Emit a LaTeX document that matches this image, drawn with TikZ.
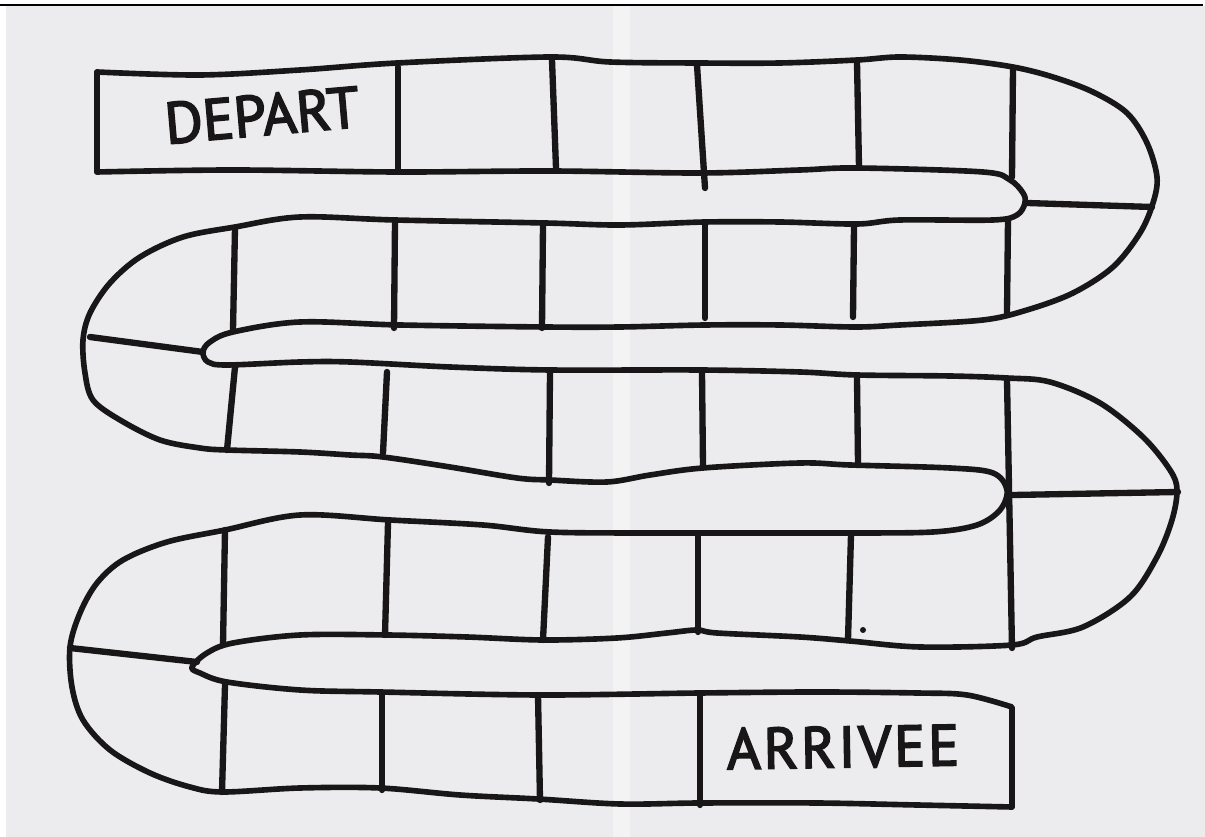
\documentclass[tikz,border=0pt]{standalone}
\usepackage{fontspec}
\newfontfamily\handfont[FakeBold=3]{PT Sans}
\newfontfamily\handfontwide[FakeBold=3,LetterSpace=5]{PT Sans}
\usetikzlibrary{calc}
\definecolor{paper}{RGB}{236,236,238}
\definecolor{ink}{RGB}{24,22,22}

\begin{document}
\begin{tikzpicture}[x=0.01cm,y=-0.01cm,
  track/.style={ink,line width=1.6pt,line cap=round,line join=round},
  wall/.style={ink,line width=1.8pt,line cap=round},
  word/.style={ink,inner sep=0pt}]
\useasboundingbox (0,0) rectangle (1205,837);
% Paper
\fill[white] (0,0) rectangle (1205,837);
\fill[paper] (6,6) rectangle (1205,837);
\fill[white,opacity=0.4] (613,6) rectangle (630,837);
\draw[black,line width=0.6pt] (0,5) -- (1203,5);
% Outer edge of right turns, inner edge of left turns
\draw[track] plot[smooth,tension=0.55] coordinates {
  (97,72) (200,75) (300,70) (397,63) (550,57) (610,62) (697,63) (780,63)
  (857,60) (900,57) (960,60) (1013,67) (1053,77) (1093,92) (1127,113)
  (1147,143) (1157,177) (1153,203) (1140,233) (1113,267) (1073,293)
  (1027,310) (983,320) (900,325) (855,327) (780,325) (705,325) (620,327)
  (545,327) (400,325) (300,322) (233,332) (210,342) (203,352) (208,362)
  (227,365) (300,362) (350,362) (450,367) (550,370) (700,370) (800,372)
  (857,375) (950,376) (1007,378) (1050,382) (1100,403) (1143,437)
  (1170,470) (1177,490) (1172,520) (1157,557) (1130,597) (1083,627)
  (1037,637) (1012,645) (920,647) (850,641) (800,637) (717,633) (697,630)
  (667,633) (617,638) (543,640) (467,637) (387,635) (300,635) (233,643)
  (207,653) (192,667) (200,673) (227,682) (300,690) (380,692) (540,695)
  (700,693) (817,692) (917,693) (967,695) (1012,707)}
  -- (1012,807);
% Inner edge of right turns, outer edge of left turns
\draw[track] plot[smooth,tension=0.55] coordinates {
  (97,172) (233,170) (397,172) (550,171) (700,173) (800,170) (857,168)
  (983,172) (1010,180) (1023,193) (1025,203) (1017,215) (993,220)
  (900,220) (857,224) (780,222) (705,222) (620,225) (545,223) (395,220)
  (300,217) (235,227) (183,237) (140,257) (110,283) (90,313) (83,340)
  (85,373) (93,400) (120,420) (160,440) (200,448) (227,450) (300,452)
  (350,455) (383,457) (450,467) (517,478) (550,480) (607,482) (650,475)
  (703,468) (800,463) (850,465) (950,468) (993,473) (1007,490) (1000,510)
  (977,525) (933,532) (850,533) (750,533) (650,533) (550,532) (483,525)
  (390,520) (300,515) (225,530) (167,542) (123,560) (97,583) (80,613)
  (70,647) (72,687) (83,720) (110,750) (150,773) (190,787) (223,792)
  (300,788) (380,788) (460,795) (538,799) (620,804) (700,803) (817,803)
  (917,805) (1012,807)};
% Start box end
\draw[track] (97,72) -- (97,172);
% Cell walls in the rows
\foreach \xa/\ya/\xb/\yb in {
  398/67/398/170, 552/60/556/168, 697/65/705/188, 857/62/859/167, 1013/68/1012/177,
  235/228/233/330, 395/222/394/328, 543/225/542/328, 705/225/705/318, 854/227/853/317, 1008/220/1007/313,
  235/367/227/450, 387/372/383/453, 550/373/549/483, 702/372/703/466, 857/378/858/463, 1007/380/1012/648,
  225/530/223/645, 388/523/385/635, 548/537/543/640, 698/535/698/632, 851/535/848/640,
  225/685/222/792, 382/693/382/790, 538/695/540/800, 700/696/700/805}
  \draw[wall] (\xa,\ya) -- (\xb,\yb);
% Cell walls in the turns
\foreach \xa/\ya/\xb/\yb in {1027/203/1152/207, 90/337/203/352, 1013/495/1178/492, 70/648/197/662}
  \draw[wall] (\xa,\ya) -- (\xb,\yb);
% Speck of ink
\fill[ink] (863,630) circle (3);
% Labels
\node[word,font=\handfont\fontsize{16.5}{18}\selectfont,rotate=5] (depart) at (262,115) {DEPART};
\node[word,font=\handfontwide\fontsize{16.5}{18}\selectfont,rotate=1] (arrivee) at (843,747) {ARRIVEE};
\end{tikzpicture}
\end{document}
